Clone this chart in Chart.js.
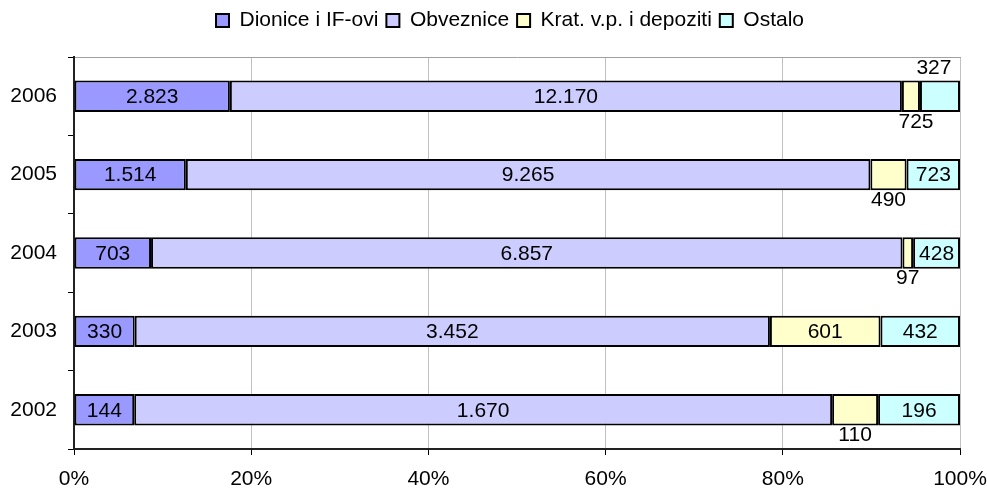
<!DOCTYPE html>
<html>
<head>
<meta charset="utf-8">
<script src="https://cdn.jsdelivr.net/npm/chart.js@4.4.1/dist/chart.umd.min.js"></script>
<style>
  html, body { margin: 0; padding: 0; background: #fff; }
  #wrap { width: 987px; height: 489px; }
</style>
</head>
<body>
<div id="wrap"><canvas id="chart" width="987" height="489"></canvas></div>
<script>
// Godine (odozgo prema dolje)
const godine = ['2006', '2005', '2004', '2003', '2002'];

// Iznosi po vrsti ulaganja
const dionice   = [2823, 1514, 703, 330, 144];
const obveznice = [12170, 9265, 6857, 3452, 1670];
const kratVp    = [327, 490, 97, 601, 110];
const ostalo    = [725, 723, 428, 432, 196];

const nazivi = ['Dionice i IF-ovi', 'Obveznice', 'Krat. v.p. i depoziti', 'Ostalo'];
const boje = ['#9999ff', '#ccccff', '#ffffcc', '#ccffff'];

// Gdje stoji oznaka: u stupcu, ispod ili iznad
const polozaj = [
    ['in', 'in', 'in', 'in', 'in'],
    ['in', 'in', 'in', 'in', 'in'],
    ['above', 'below', 'below', 'in', 'below'],
    ['below', 'in', 'in', 'in', 'in']
];
// ručno pomaknute oznake (kao u izvorniku)
const pomakX = { '2-0': 23, '3-0': -24 };

const serije = [dionice, obveznice, kratVp, ostalo];
const ukupno = godine.map((g, i) => serije.reduce((s, a) => s + a[i], 0));

function formatBroj(n) {
    return String(n).replace(/\B(?=(\d{3})+(?!\d))/g, '.');
}

const fontFam = '"Liberation Sans", Arial, sans-serif';

// Oznake vrijednosti na stupcima
const oznakePlugin = {
    id: 'oznake',
    afterDatasetsDraw(chart) {
        const ctx = chart.ctx;
        ctx.save();
        ctx.font = '21px ' + fontFam;
        ctx.fillStyle = '#000';
        ctx.textAlign = 'center';
        ctx.textBaseline = 'middle';
        chart.data.datasets.forEach((ds, d) => {
            const meta = chart.getDatasetMeta(d);
            meta.data.forEach((el, i) => {
                const p = el.getProps(['x', 'y', 'base', 'height'], true);
                const cx = (p.x + p.base) / 2 + (pomakX[d + '-' + i] || 0);
                let cy = p.y + 1;
                if (polozaj[d][i] === 'below') cy = p.y + p.height / 2 + 10;
                if (polozaj[d][i] === 'above') cy = p.y - p.height / 2 - 12;
                ctx.fillText(formatBroj(serije[d][i]), cx, cy);
            });
        });
        ctx.restore();
    }
};

// Legenda malo udesno (centrirana iznad područja crtanja)
const legendaPomak = {
    id: 'legendaPomak',
    afterLayout(chart) {
        if (chart.legend) {
            chart.legend.left += 30;
            chart.legend.right += 30;
        }
    }
};

Chart.defaults.font.family = fontFam;
Chart.defaults.font.size = 21;
Chart.defaults.color = '#000';

new Chart(document.getElementById('chart').getContext('2d'), {
    type: 'bar',
    data: {
        labels: godine,
        datasets: serije.map((s, d) => ({
            label: nazivi[d],
            data: s.map((v, i) => v / ukupno[i] * 100),
            backgroundColor: boje[d],
            borderColor: '#000',
            borderWidth: 2,
            borderSkipped: false,
            categoryPercentage: 1,
            barPercentage: 0.4
        }))
    },
    options: {
        indexAxis: 'y',
        responsive: false,
        animation: false,
        layout: { padding: { top: 2, right: 27, left: 0, bottom: 0 } },
        plugins: {
            legend: {
                display: true,
                position: 'top',
                labels: {
                    boxWidth: 13,
                    boxHeight: 13,
                    padding: 8,
                    font: { size: 21 }
                }
            },
            tooltip: { enabled: false }
        },
        scales: {
            x: {
                stacked: true,
                min: 0,
                max: 100,
                ticks: {
                    stepSize: 20,
                    padding: 12,
                    callback: v => v + '%'
                },
                grid: {
                    color: '#c0c0c0',
                    tickColor: '#000',
                    tickLength: 6
                },
                border: { color: '#222', width: 2 },
                afterFit(scale) {
                    scale.height = 40;
                    scale.paddingLeft = 0;
                    scale.paddingRight = 0;
                }
            },
            // prazna gornja os: razmak ispod legende i sivi gornji rub
            xTop: {
                axis: 'x',
                position: 'top',
                min: 0,
                max: 100,
                ticks: { display: false },
                grid: { display: false, drawTicks: false },
                border: { color: '#a0a0a0', width: 1 },
                afterFit(scale) {
                    scale.height = 16;
                    scale.paddingLeft = 0;
                    scale.paddingRight = 0;
                }
            },
            y: {
                stacked: true,
                ticks: { padding: 11 },
                grid: {
                    offset: true,
                    drawOnChartArea: false,
                    tickColor: '#000',
                    tickLength: 6
                },
                border: { color: '#222', width: 2 },
                afterFit(scale) { scale.width = 74; }
            }
        }
    },
    plugins: [oznakePlugin, legendaPomak]
});
</script>
</body>
</html>
